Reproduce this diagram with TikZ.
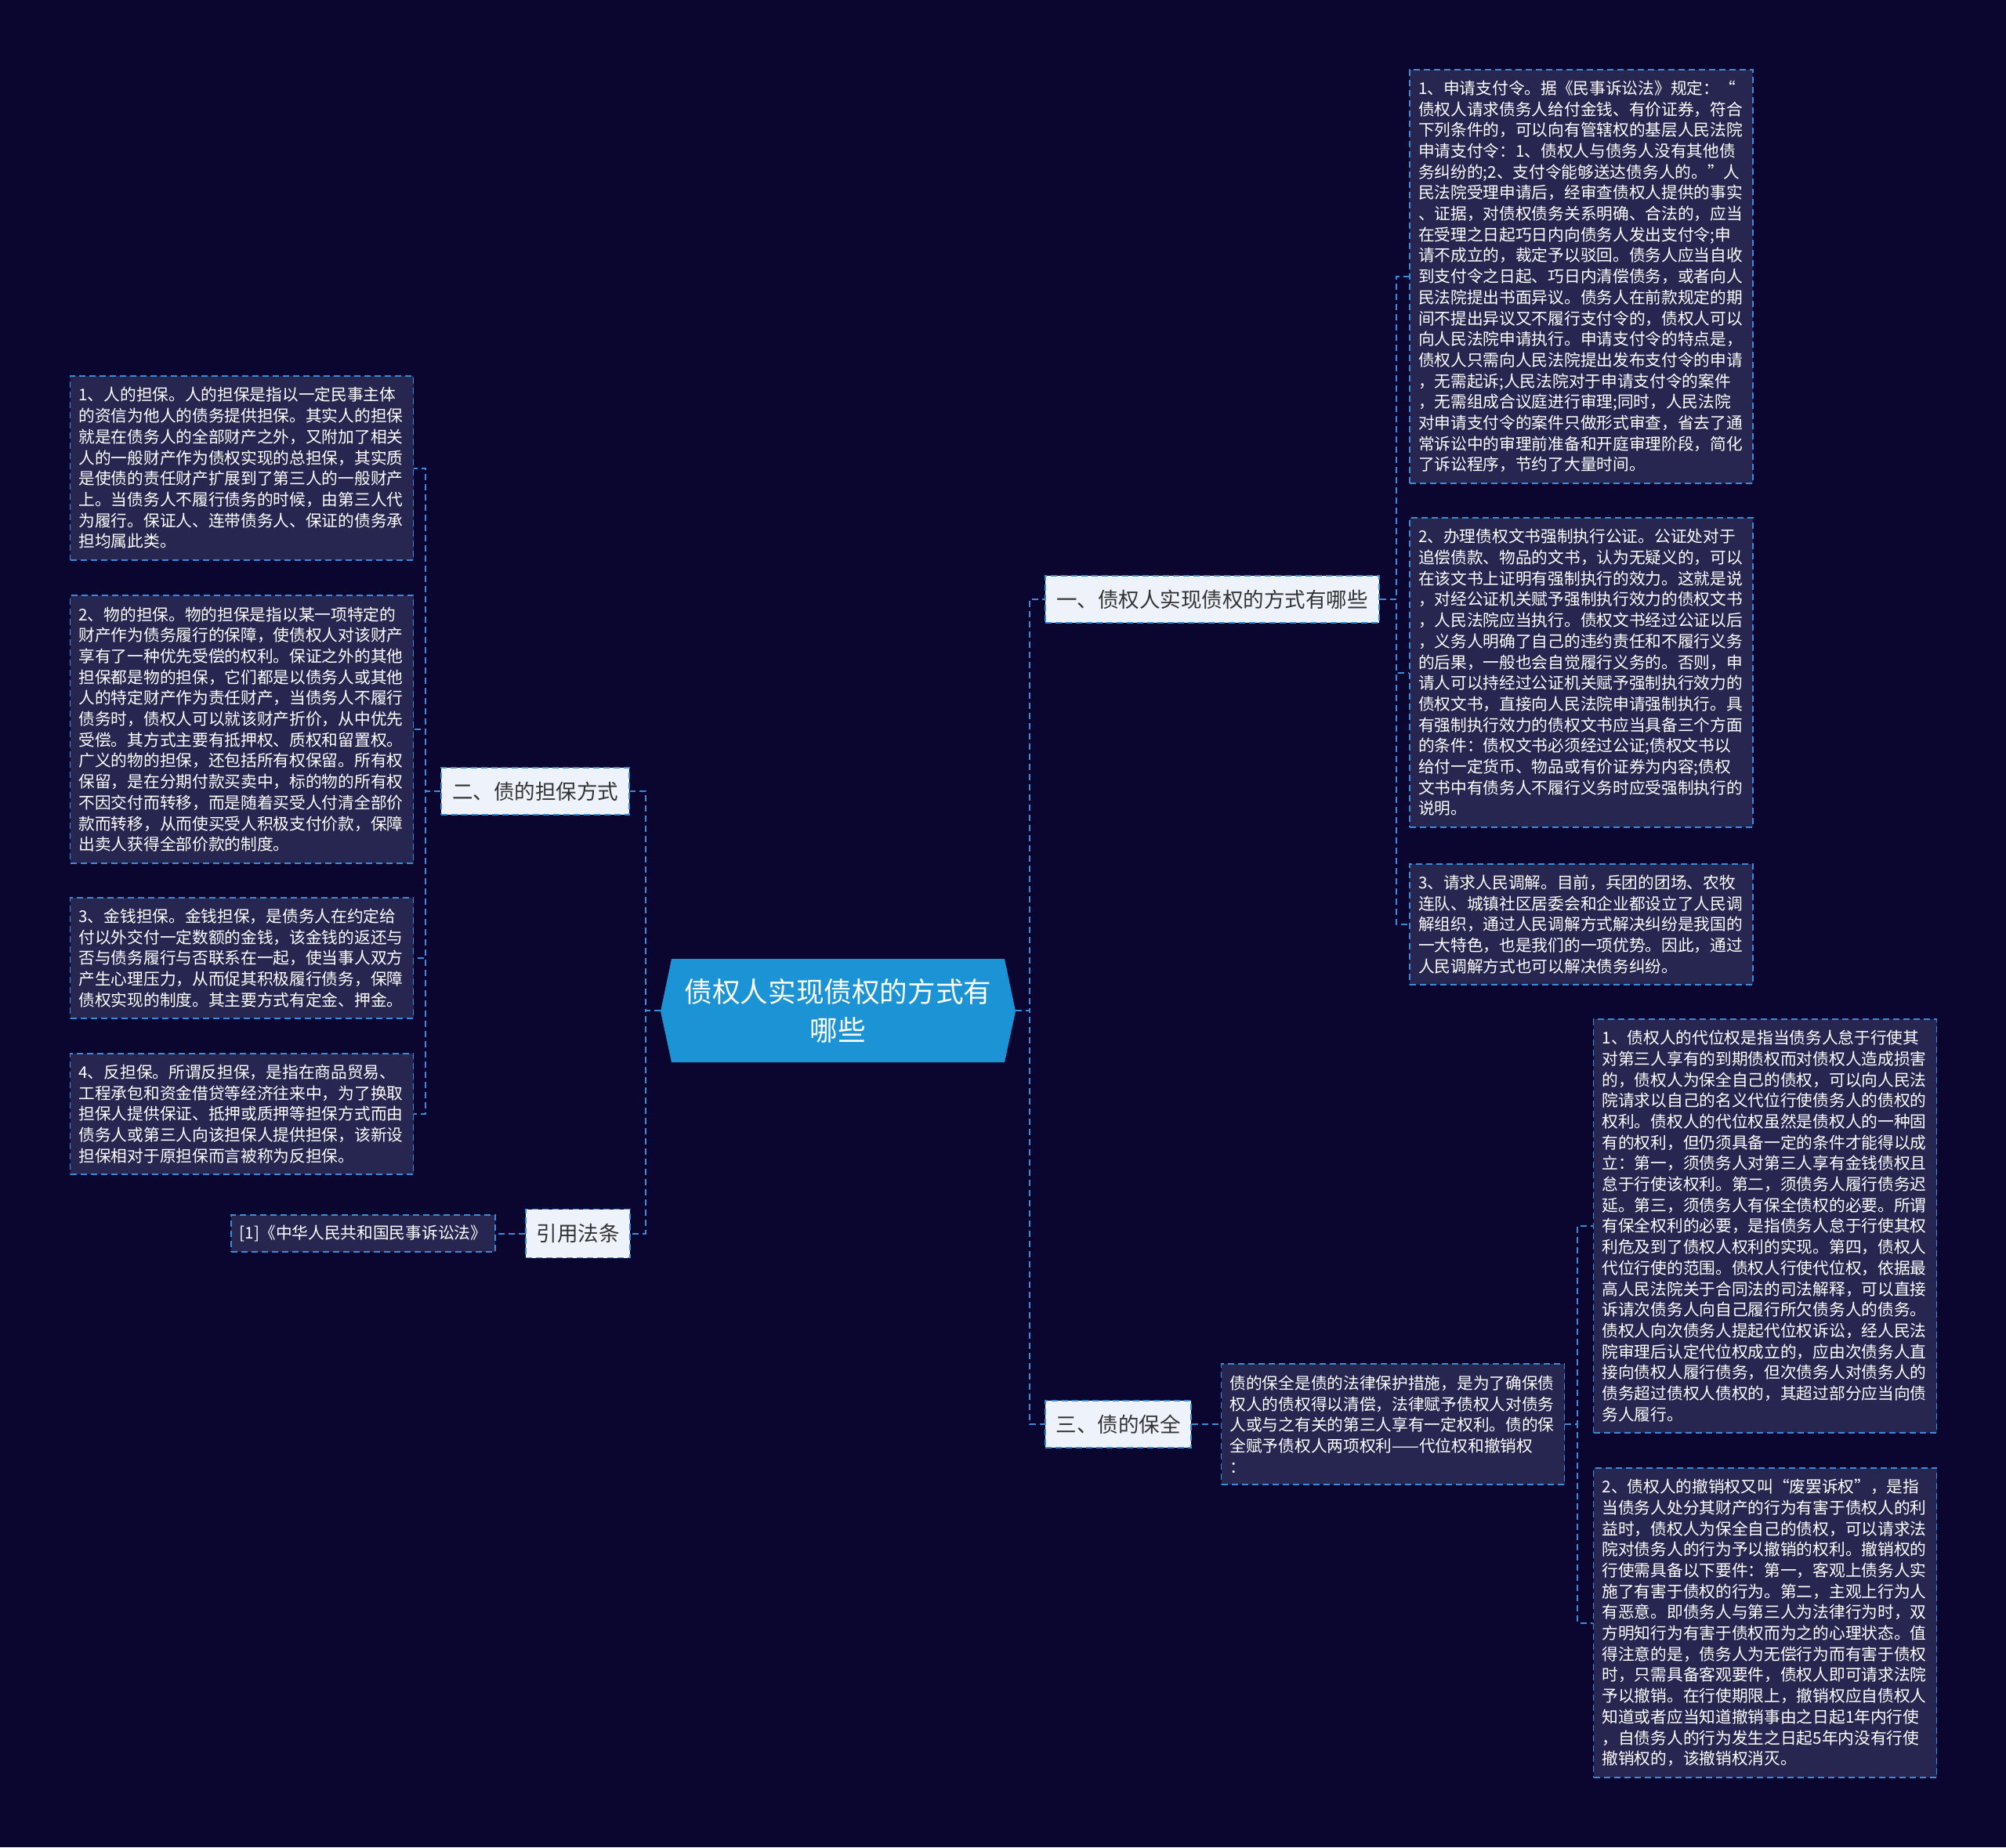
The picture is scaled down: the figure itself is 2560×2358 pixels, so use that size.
\documentclass[tikz,border=0pt]{standalone}
\usepackage{fontspec}
\setmainfont{Noto Sans CJK SC}
\definecolor{bg}{HTML}{0B0630}
\definecolor{leaf}{HTML}{262650}
\definecolor{linec}{HTML}{3A8CD8}
\definecolor{rootc}{HTML}{1B93D5}
\definecolor{branchc}{HTML}{EEF3FB}
\definecolor{btext}{HTML}{333333}
\begin{document}
\begin{tikzpicture}[x=0.5pt,y=-0.5pt,
 conn/.style={draw=linec,line width=1pt,dash pattern=on 4pt off 2.5pt},
 leafbox/.style={draw=linec,line width=0.8pt,dash pattern=on 4pt off 2.5pt,fill=leaf,text=white,align=left,text width=208pt,inner xsep=5.5pt,inner ysep=0pt,font=\fontsize{10.35pt}{13.35pt}\selectfont,minimum width=219pt},
 branchbox/.style={draw=linec,line width=0.8pt,dash pattern=on 4pt off 2.5pt,fill=branchc,text=btext,inner sep=0pt,font=\fontsize{13.25pt}{16pt}\selectfont,minimum height=30pt},
]
\fill[bg] (0,0) rectangle (2560,2358);
\useasboundingbox (0,0) rectangle (2560,2358);

% root
\fill[rootc] (843,1291) -- (857,1224) -- (1282,1224) -- (1296,1291) -- (1282,1356) -- (857,1356) -- cycle;
\node[minimum width=226.5pt,minimum height=66pt,inner sep=0pt,text=white,align=center,text width=210pt,font=\fontsize{17.8pt}{24.5pt}\selectfont] (root) at (1069.5,1290) {债权人实现债权的方式有\\哪些};

% branches
\node[branchbox,minimum width=213pt] (b1) at (1547,765) {一、债权人实现债权的方式有哪些};
\node[branchbox,minimum width=120pt] (b2) at (683,1010) {二、债的担保方式};
\node[branchbox,minimum width=93pt] (b3) at (1427,1818) {三、债的保全};
\node[branchbox,minimum width=66.5pt,minimum height=31pt] (b4) at (737.5,1574.5) {引用法条};

% right-top leaves
\node[leafbox,minimum height=264pt] (R1) at (2018,353) {1、申请支付令。据《民事诉讼法》规定：“\\
债权人请求债务人给付金钱、有价证券，符合\\
下列条件的，可以向有管辖权的基层人民法院\\
申请支付令：1、债权人与债务人没有其他债\\
务纠纷的;2、支付令能够送达债务人的。”人\\
民法院受理申请后，经审查债权人提供的事实\\
、证据，对债权债务关系明确、合法的，应当\\
在受理之日起巧日内向债务人发出支付令;申\\
请不成立的，裁定予以驳回。债务人应当自收\\
到支付令之日起、巧日内清偿债务，或者向人\\
民法院提出书面异议。债务人在前款规定的期\\
间不提出异议又不履行支付令的，债权人可以\\
向人民法院申请执行。申请支付令的特点是，\\
债权人只需向人民法院提出发布支付令的申请\\
，无需起诉;人民法院对于申请支付令的案件\\
，无需组成合议庭进行审理;同时，人民法院\\
对申请支付令的案件只做形式审查，省去了通\\
常诉讼中的审理前准备和开庭审理阶段，简化\\
了诉讼程序，节约了大量时间。};

\node[leafbox,minimum height=197.5pt] (R2) at (2018,858.5) {2、办理债权文书强制执行公证。公证处对于\\
追偿债款、物品的文书，认为无疑义的，可以\\
在该文书上证明有强制执行的效力。这就是说\\
，对经公证机关赋予强制执行效力的债权文书\\
，人民法院应当执行。债权文书经过公证以后\\
，义务人明确了自己的违约责任和不履行义务\\
的后果，一般也会自觉履行义务的。否则，申\\
请人可以持经过公证机关赋予强制执行效力的\\
债权文书，直接向人民法院申请强制执行。具\\
有强制执行效力的债权文书应当具备三个方面\\
的条件：债权文书必须经过公证;债权文书以\\
给付一定货币、物品或有价证券为内容;债权\\
文书中有债务人不履行义务时应受强制执行的\\
说明。};

\node[leafbox,minimum height=77pt] (R3) at (2018,1180) {3、请求人民调解。目前，兵团的团场、农牧\\
连队、城镇社区居委会和企业都设立了人民调\\
解组织，通过人民调解方式解决纠纷是我国的\\
一大特色，也是我们的一项优势。因此，通过\\
人民调解方式也可以解决债务纠纷。};

% right-bottom
\node[leafbox,minimum height=77pt] (S0) at (1777.5,1818) {债的保全是债的法律保护措施，是为了确保债\\
权人的债权得以清偿，法律赋予债权人对债务\\
人或与之有关的第三人享有一定权利。债的保\\
全赋予债权人两项权利——代位权和撤销权\\
：};

\node[leafbox,minimum height=264pt] (S1) at (2252.5,1565) {1、债权人的代位权是指当债务人怠于行使其\\
对第三人享有的到期债权而对债权人造成损害\\
的，债权人为保全自己的债权，可以向人民法\\
院请求以自己的名义代位行使债务人的债权的\\
权利。债权人的代位权虽然是债权人的一种固\\
有的权利，但仍须具备一定的条件才能得以成\\
立：第一，须债务人对第三人享有金钱债权且\\
怠于行使该权利。第二，须债务人履行债务迟\\
延。第三，须债务人有保全债权的必要。所谓\\
有保全权利的必要，是指债务人怠于行使其权\\
利危及到了债权人权利的实现。第四，债权人\\
代位行使的范围。债权人行使代位权，依据最\\
高人民法院关于合同法的司法解释，可以直接\\
诉请次债务人向自己履行所欠债务人的债务。\\
债权人向次债务人提起代位权诉讼，经人民法\\
院审理后认定代位权成立的，应由次债务人直\\
接向债权人履行债务，但次债务人对债务人的\\
债务超过债权人债权的，其超过部分应当向债\\
务人履行。};

\node[leafbox,minimum height=197.5pt] (S2) at (2252.5,2071.5) {2、债权人的撤销权又叫“废罢诉权”，是指\\
当债务人处分其财产的行为有害于债权人的利\\
益时，债权人为保全自己的债权，可以请求法\\
院对债务人的行为予以撤销的权利。撤销权的\\
行使需具备以下要件：第一，客观上债务人实\\
施了有害于债权的行为。第二，主观上行为人\\
有恶意。即债务人与第三人为法律行为时，双\\
方明知行为有害于债权而为之的心理状态。值\\
得注意的是，债务人为无偿行为而有害于债权\\
时，只需具备客观要件，债权人即可请求法院\\
予以撤销。在行使期限上，撤销权应自债权人\\
知道或者应当知道撤销事由之日起1年内行使\\
，自债务人的行为发生之日起5年内没有行使\\
撤销权的，该撤销权消灭。};

% left leaves
\node[leafbox,minimum height=117.5pt] (L1) at (308.5,597.5) {1、人的担保。人的担保是指以一定民事主体\\
的资信为他人的债务提供担保。其实人的担保\\
就是在债务人的全部财产之外，又附加了相关\\
人的一般财产作为债权实现的总担保，其实质\\
是使债的责任财产扩展到了第三人的一般财产\\
上。当债务人不履行债务的时候，由第三人代\\
为履行。保证人、连带债务人、保证的债务承\\
担均属此类。};

\node[leafbox,minimum height=171pt] (L2) at (308.5,931) {2、物的担保。物的担保是指以某一项特定的\\
财产作为债务履行的保障，使债权人对该财产\\
享有了一种优先受偿的权利。保证之外的其他\\
担保都是物的担保，它们都是以债务人或其他\\
人的特定财产作为责任财产，当债务人不履行\\
债务时，债权人可以就该财产折价，从中优先\\
受偿。其方式主要有抵押权、质权和留置权。\\
广义的物的担保，还包括所有权保留。所有权\\
保留，是在分期付款买卖中，标的物的所有权\\
不因交付而转移，而是随着买受人付清全部价\\
款而转移，从而使买受人积极支付价款，保障\\
出卖人获得全部价款的制度。};

\node[leafbox,minimum height=77pt] (L3) at (308.5,1223) {3、金钱担保。金钱担保，是债务人在约定给\\
付以外交付一定数额的金钱，该金钱的返还与\\
否与债务履行与否联系在一起，使当事人双方\\
产生心理压力，从而促其积极履行债务，保障\\
债权实现的制度。其主要方式有定金、押金。};

\node[leafbox,minimum height=77pt] (L4) at (308.5,1422) {4、反担保。所谓反担保，是指在商品贸易、\\
工程承包和资金借贷等经济往来中，为了换取\\
担保人提供保证、抵押或质押等担保方式而由\\
债务人或第三人向该担保人提供担保，该新设\\
担保相对于原担保而言被称为反担保。};

\node[draw=linec,line width=0.8pt,dash pattern=on 4pt off 2.5pt,fill=leaf,text=white,inner sep=0pt,font=\fontsize{10.35pt}{13.35pt}\selectfont,minimum width=168.5pt,minimum height=23.5pt] (cite) at (463.5,1574.5) {[1]《中华人民共和国民事诉讼法》};

% connectors
\draw[conn] (root.east) -- ++(18,0) |- (b1.west);
\draw[conn] (root.east) -- ++(18,0) |- (b3.west);
\draw[conn] (root.west) -- ++(-19,0) |- (b2.east);
\draw[conn] (root.west) -- ++(-19,0) |- (b4.east);

\draw[conn] (b1.east) -- ++(21,0) |- (R1.west);
\draw[conn] (b1.east) -- ++(21,0) |- (R2.west);
\draw[conn] (b1.east) -- ++(21,0) |- (R3.west);

\draw[conn] (b2.west) -- ++(-19,0) |- (L1.east);
\draw[conn] (b2.west) -- ++(-19,0) |- (L2.east);
\draw[conn] (b2.west) -- ++(-19,0) |- (L3.east);
\draw[conn] (b2.west) -- ++(-19,0) |- (L4.east);

\draw[conn] (b3.east) -- (S0.west);
\draw[conn] (S0.east) -- ++(16,0) |- (S1.west);
\draw[conn] (S0.east) -- ++(16,0) |- (S2.west);

\draw[conn] (b4.west) -- (cite.east);
\end{tikzpicture}
\end{document}
